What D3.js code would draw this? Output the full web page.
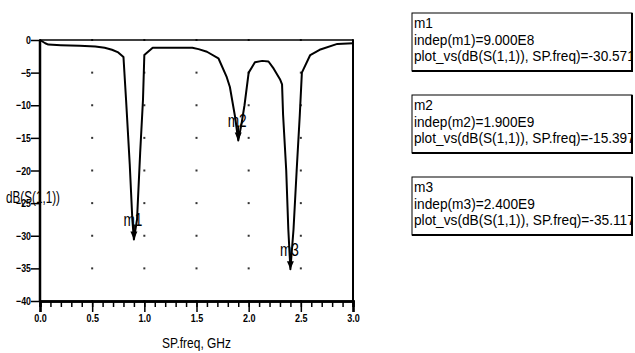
<!DOCTYPE html>
<html>
<head>
<meta charset="utf-8">
<script src="https://cdn.jsdelivr.net/npm/d3@7"></script>
<style>
  body { margin: 0; background: #fff; }
  svg { display: block; }
  text { font-family: "Liberation Sans", Arial, sans-serif; fill: #000; }
</style>
</head>
<body>
<div id="chart"></div>
<script>
// data
const freq = [0.00, 0.05, 0.08, 0.20, 0.38, 0.53, 0.62, 0.69, 0.75, 0.80, 0.825, 0.86, 0.885, 0.90, 0.93, 0.96, 0.987, 1.00,
  1.08, 1.10, 1.46, 1.52, 1.60, 1.71, 1.79, 1.82, 1.87, 1.90, 1.93, 1.96, 2.00, 2.03, 2.06, 2.13, 2.19, 2.24, 2.30, 2.32,
  2.33, 2.36, 2.38, 2.40, 2.43, 2.46, 2.49, 2.51, 2.59, 2.68, 2.85, 3.00]
const s11 = [0, -0.5, -0.7, -0.8, -0.9, -1.0, -1.2, -1.5, -1.9, -2.6, -9.2, -19.0, -27.5, -30.571, -27.5, -17.3, -9.2, -2.3,
  -1.2, -1.2, -1.2, -1.4, -1.8, -2.8, -5.7, -7.2, -11.8, -15.397, -13.0, -10.0, -5.0, -4.2, -3.4, -3.2, -3.3, -4.4, -6.0, -6.8,
  -11.5, -20, -29, -35.117, -29, -20, -11.5, -5.0, -2.3, -1.5, -0.6, -0.5]
const xMajor = [0, 0.5, 1.0, 1.5, 2.0, 2.5, 3.0]
const xMinor = d3.range(0, 31).map(d => d / 10)
const yTicks = [0, -5, -10, -15, -20, -25, -30, -35, -40]
const markerNames = ['m1', 'm2', 'm3']
const markerFreq = [0.9, 1.9, 2.4]
const markerDb = [-30.571, -15.397, -35.117]
const markerIndep = ['9.000E8', '1.900E9', '2.400E9']

// consts
const width = 635, height = 353
const svg = d3.select('#chart').append('svg')
  .attr('width', width)
  .attr('height', height)

const x = d3.scaleLinear().domain([0, 3]).range([40, 353])
const y = d3.scaleLinear().domain([0, -40]).range([40, 301])

// helpers
// squeeze text horizontally (no narrow font installed)
const condense = (sel, sx) => {
  sel.each(function () {
    const t = d3.select(this)
    const tx = +t.attr('x') || 0, ty = +t.attr('y') || 0
    t.attr('x', 0).attr('y', 0)
      .attr('transform', `translate(${tx},${ty}) scale(${sx},1)`)
  })
}
const fitWidth = (sel, target) => {
  condense(sel, target / sel.node().getComputedTextLength())
}

// grid dots
const dots = []
xMajor.forEach(f => yTicks.forEach(v => dots.push([f, v])))
svg.append('g').selectAll('rect')
  .data(dots)
  .enter()
  .append('rect')
  .attr('x', d => x(d[0]) - 1)
  .attr('y', d => y(d[1]) - 1)
  .attr('width', 2)
  .attr('height', 2)
  .attr('fill', '#333')

// frame: top and right
svg.append('line').attr('x1', x(0)).attr('x2', x(3)).attr('y1', y(0)).attr('y2', y(0))
  .attr('stroke', '#000').attr('stroke-width', 1.5)
svg.append('line').attr('x1', x(3)).attr('x2', x(3)).attr('y1', y(0)).attr('y2', y(-40))
  .attr('stroke', '#000').attr('stroke-width', 2)

// axes
const xMinorAxis = d3.axisBottom(x).tickValues(xMinor).tickSize(6).tickFormat('')
const xMajorAxis = d3.axisBottom(x).tickValues(xMajor).tickSize(11).tickFormat(d3.format('.1f'))
const yAxis = d3.axisLeft(y).tickValues(yTicks).tickSize(9).tickFormat(d3.format('d'))

const gxMinor = svg.append('g').attr('transform', `translate(0,${y(-40)})`).call(xMinorAxis)
const gx = svg.append('g').attr('transform', `translate(0,${y(-40)})`).call(xMajorAxis)
const gy = svg.append('g').attr('transform', `translate(${x(0)},0)`).call(yAxis)

;[gxMinor, gx, gy].forEach(g => {
  g.select('.domain').attr('stroke', '#000').attr('stroke-width', 2.5)
  g.selectAll('.tick line').attr('stroke', '#000').attr('stroke-width', 1.5)
})
gx.selectAll('.tick text').attr('y', 13).attr('dy', '0.71em')
  .style('font-size', '11px').style('font-weight', 'bold')
condense(gx.selectAll('.tick text'), 0.82)
gy.selectAll('.tick text').attr('x', -9).attr('dy', '0.32em')
  .style('font-size', '11px').style('font-weight', 'bold')
condense(gy.selectAll('.tick text'), 0.8)
gy.selectAll('.domain').attr('d', `M0,${y(0)}V${y(-40)}`)

// axis titles
const yTitle = svg.append('text')
  .attr('x', 6).attr('y', 203)
  .style('font-size', '16px')
  .text('dB(S(1,1))')
fitWidth(yTitle, 54)
const xTitle = svg.append('text')
  .attr('x', (x(0) + x(3)) / 2).attr('y', 348)
  .attr('text-anchor', 'middle')
  .style('font-size', '15px')
  .text('SP.freq, GHz')
fitWidth(xTitle, 69)

// curve
const line = d3.line()
  .x(d => x(d[0]))
  .y(d => y(d[1]))
svg.append('path')
  .datum(freq.map((f, i) => [f, s11[i]]))
  .attr('d', line)
  .attr('fill', 'none')
  .attr('stroke', '#000')
  .attr('stroke-width', 2)
  .attr('stroke-linejoin', 'round')

// markers
markerNames.forEach((name, i) => {
  const mx = x(markerFreq[i]), my = y(markerDb[i])
  const g = svg.append('g')
  g.append('line')
    .attr('x1', mx).attr('x2', mx).attr('y1', my - 15).attr('y2', my - 6)
    .attr('stroke', '#000').attr('stroke-width', 2)
  g.append('path')
    .attr('d', `M${mx - 3.5},${my - 8}L${mx + 3.5},${my - 8}L${mx},${my}Z`)
    .attr('fill', '#000')
  const lbl = g.append('text')
    .attr('x', mx - 1).attr('y', my - 13)
    .attr('text-anchor', 'middle')
    .style('font-size', '18px')
    .text(name)
  fitWidth(lbl, 19)
})

// marker readout boxes
const boxTop = [13, 95, 177]
const defs = svg.append('defs')
markerNames.forEach((name, i) => {
  const bx = 412, by = boxTop[i], bw = 220, bh = 58
  defs.append('clipPath').attr('id', 'clip' + i)
    .append('rect').attr('x', bx).attr('y', by).attr('width', bw).attr('height', bh)
  const g = svg.append('g')
  g.append('rect')
    .attr('x', bx).attr('y', by).attr('width', bw).attr('height', bh)
    .attr('fill', '#fff').attr('stroke', '#000').attr('stroke-width', 1)
  g.append('path')
    .attr('d', `M${bx + bw},${by}V${by + bh}H${bx}`)
    .attr('fill', 'none').attr('stroke', '#000').attr('stroke-width', 2)
  const lines = [
    name,
    `indep(${name})=${markerIndep[i]}`,
    `plot_vs(dB(S(1,1)), SP.freq)=${markerDb[i].toFixed(3)}`
  ]
  const texts = g.append('g').attr('clip-path', `url(#clip${i})`)
    .selectAll('text')
    .data(lines)
    .enter()
    .append('text')
    .attr('x', bx + 2)
    .attr('y', (d, j) => by + 15 + j * 16.5)
    .style('font-size', '15.5px')
    .text(d => d)
  // fit the long readout line to the box width like the reference
  const full = texts.nodes()[2].getComputedTextLength()
  condense(texts, 221 / full)
})
</script>
</body>
</html>
